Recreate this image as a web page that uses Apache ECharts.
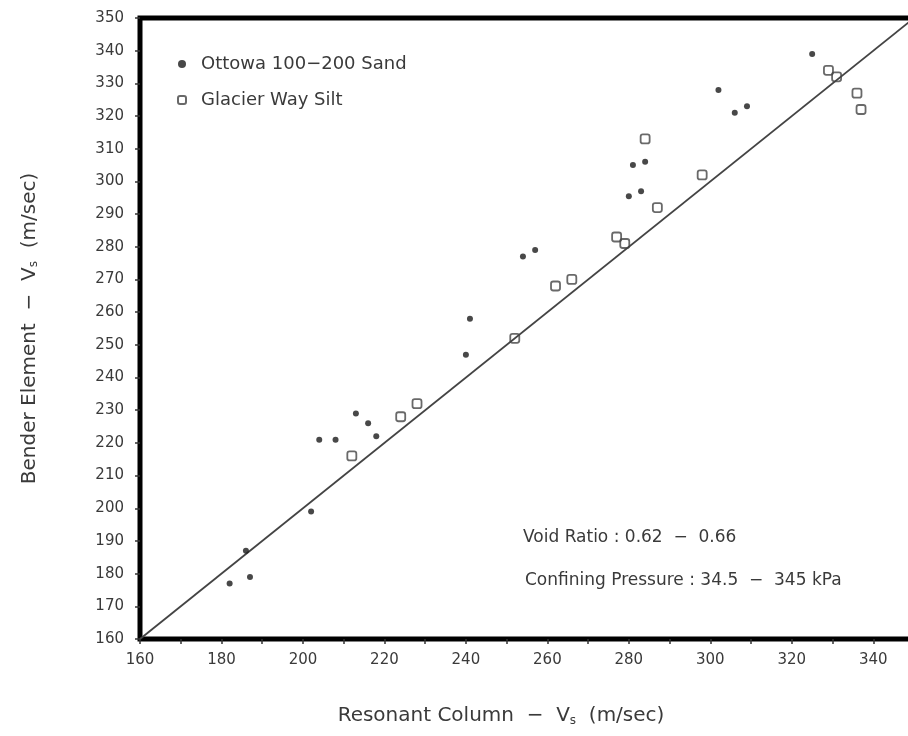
<!DOCTYPE html>
<html>
<head>
<meta charset="utf-8">
<title>Bender Element vs Resonant Column</title>
<script src="https://cdn.jsdelivr.net/npm/echarts@6/dist/echarts.min.js"></script>
<style>
  html, body { margin: 0; padding: 0; background: #fff; }
  #chart { width: 908px; height: 736px; }
</style>
</head>
<body>
<div id="chart"></div>
<script>
// Ottowa 100-200 Sand (filled dots), [resonant column Vs, bender element Vs]
const ottowaSand = [
  [182, 177], [186, 187], [187, 179], [202, 199], [204, 221], [208, 221],
  [213, 229], [216, 226], [218, 222], [240, 247], [241, 258], [254, 277],
  [257, 279], [280, 295.5], [283, 297], [281, 305], [284, 306], [302, 328],
  [306, 321], [309, 323], [325, 339]
]

// Glacier Way Silt (open squares)
const glacierSilt = [
  [212, 216], [224, 228], [228, 232], [252, 252], [262, 268], [266, 270],
  [277, 283], [279, 281], [287, 292], [284, 313], [298, 302], [329, 334],
  [331, 332], [336, 327], [337, 322]
]

// line of equality
const equalityLine = [[160, 160], [350, 350]]

const axisMin = 160
const axisMax = 350
const tickStep = 10

const textColor = '#3a3a3a'
const fontFamily = '"DejaVu Sans", sans-serif'

const myChart = echarts.init(document.getElementById('chart'))

const option = {
  backgroundColor: '#fff',
  animation: false,
  grid: {
    left: 140,
    top: 18,
    width: 774,
    bottom: 97,
    outerBoundsMode: 'none',
    containLabel: false,
    show: true,
    borderColor: '#000',
    borderWidth: 5,
  },
  legend: {
    orient: 'vertical',
    left: 172,
    top: 50,
    itemGap: 18,
    itemWidth: 8,
    itemHeight: 8,
    data: ['Ottowa 100−200 Sand', 'Glacier Way Silt'],
    textStyle: {
      color: textColor,
      fontSize: 18,
      fontFamily: fontFamily,
      padding: [0, 0, 0, 10],
    },
  },
  xAxis: {
    type: 'value',
    min: axisMin,
    max: axisMax,
    interval: tickStep,
    name: 'Resonant Column  −  V{sub|s}  (m/sec)',
    nameLocation: 'middle',
    nameGap: 66,
    nameTextStyle: {
      color: textColor,
      fontSize: 20,
      fontFamily: fontFamily,
      padding: [0, 52, 0, 0],
      rich: {
        sub: { fontSize: 12, verticalAlign: 'bottom', padding: [10, 0, 0, 0], color: textColor },
      },
    },
    axisLine: { show: false },
    axisTick: {
      show: true,
      inside: false,
      length: 5,
      lineStyle: { color: '#333', width: 1.5 },
    },
    axisLabel: {
      color: textColor,
      fontSize: 15,
      fontFamily: fontFamily,
      margin: 14,
      formatter: (v) => (v % 20 === 0 && v < axisMax ? String(v) : ''),
    },
    splitLine: { show: false },
  },
  yAxis: {
    type: 'value',
    min: axisMin,
    max: axisMax,
    interval: tickStep,
    name: 'Bender Element  −  V{sub|s}  (m/sec)',
    nameLocation: 'middle',
    nameGap: 100,
    nameRotate: 90,
    nameTextStyle: {
      color: textColor,
      fontSize: 20,
      fontFamily: fontFamily,
      rich: {
        sub: { fontSize: 12, verticalAlign: 'bottom', color: textColor },
      },
    },
    axisLine: { show: false },
    axisTick: {
      show: true,
      inside: false,
      length: 5,
      lineStyle: { color: '#333', width: 1.5 },
    },
    axisLabel: {
      color: textColor,
      fontSize: 15,
      fontFamily: fontFamily,
      margin: 16,
    },
    splitLine: { show: false },
  },
  graphic: [
    {
      type: 'text',
      left: 523,
      top: 529,
      style: {
        text: 'Void Ratio : 0.62  −  0.66',
        fill: textColor,
        font: '17px "DejaVu Sans", sans-serif',
      },
    },
    {
      type: 'text',
      left: 525,
      top: 572,
      style: {
        text: 'Confining Pressure : 34.5  −  345 kPa',
        fill: textColor,
        font: '17px "DejaVu Sans", sans-serif',
      },
    },
  ],
  series: [
    {
      name: 'equality',
      type: 'line',
      data: equalityLine,
      symbol: 'none',
      clip: true,
      lineStyle: { color: '#444', width: 1.8 },
      z: 1,
    },
    {
      name: 'Ottowa 100−200 Sand',
      type: 'scatter',
      data: ottowaSand,
      symbol: 'circle',
      symbolSize: 6,
      itemStyle: { color: '#1a1a1a' },
      z: 3,
    },
    {
      name: 'Glacier Way Silt',
      type: 'scatter',
      data: glacierSilt,
      symbol: 'roundRect',
      symbolSize: 9,
      itemStyle: { color: 'rgba(255,255,255,0)', borderColor: '#444', borderWidth: 1.8 },
      z: 2,
    },
  ],
}

myChart.setOption(option)

window.addEventListener('resize', () => {
  myChart.resize()
})
</script>
</body>
</html>
